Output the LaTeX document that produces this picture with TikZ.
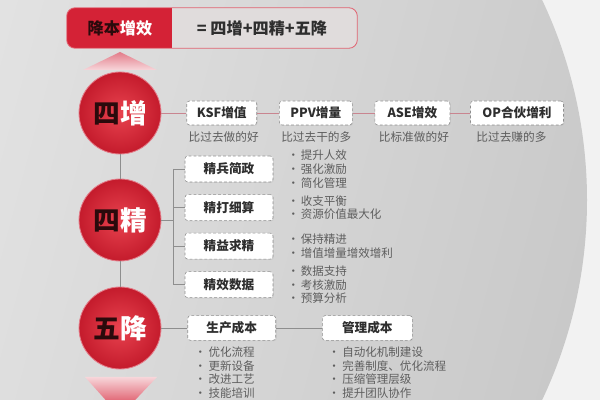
\documentclass[tikz,border=0pt]{standalone}
\usepackage{fontspec}
\setmainfont{Noto Sans CJK SC}
\usepackage{xcolor}
\usetikzlibrary{positioning, shadows, calc}

\definecolor{jred}{HTML}{D42236}
\definecolor{jredlight}{HTML}{E8434F}
\definecolor{jreddark}{HTML}{C41B2C}
\definecolor{jdark}{HTML}{2A0A0C}
\definecolor{jpink}{HTML}{E37C89}
\definecolor{jpinklight}{HTML}{F7D6DA}
\definecolor{jline}{HTML}{C98590}
\definecolor{jgrey}{HTML}{8E8E8E}
\definecolor{jtext}{HTML}{2E2E2E}
\definecolor{jsoft}{HTML}{5E5E5E}
\definecolor{jbgA}{HTML}{EEEEEE}
\definecolor{jbgB}{HTML}{DDDDDD}
\definecolor{jbgC}{HTML}{C9C9C9}
\definecolor{jbanner}{HTML}{E0DCDC}

\begin{document}
\begin{tikzpicture}[
    x=0.025cm, y=-0.025cm,
    ring/.style={circle, minimum size=2.05cm, inner sep=0pt, draw=jpink, line width=0.6pt, inner color=jredlight, outer color=jreddark, font=\fontsize{19}{19}\selectfont\bfseries},
    tag/.style={rectangle, draw=jgrey, dash pattern=on 2pt off 1.5pt, fill=white, rounded corners=2pt, minimum height=0.6cm, inner xsep=3pt, font=\fontsize{9}{9}\selectfont\bfseries, text=jtext, drop shadow={opacity=0.12, shadow xshift=0.6pt, shadow yshift=-0.6pt}},
    note/.style={inner sep=0pt, font=\fontsize{8.3}{9}\selectfont, text=jsoft},
    bul/.style={inner sep=0pt, align=left, font=\fontsize{8.2}{9.7}\selectfont, text=jsoft},
    link/.style={draw=jline, line width=0.6pt},
    trunk/.style={draw=jgrey, line width=0.6pt},
    node distance=0.3cm
]
\useasboundingbox (0,0) rectangle (600,400);

% background
\fill[white!95!black] (0,0) rectangle (600,400);
\begin{scope}
\clip (0,0) rectangle (600,400);
\shade[left color=jbgA, middle color=jbgB, right color=jbgC, shading angle=75] (120,200) circle (467);
\end{scope}

% banner
\node[minimum width=7.25cm, minimum height=1cm, inner sep=0pt] (bn) at (212,28) {};
\begin{scope}
\clip[rounded corners=6pt] (bn.south west) rectangle (bn.north east);
\fill[jbanner] (bn.south west) rectangle (bn.north east);
\fill[jred] (bn.south west) rectangle ++(105,-40);
\end{scope}
\draw[jred!70, line width=0.6pt, rounded corners=6pt] (bn.south west) rectangle (bn.north east);
\node[font=\fontsize{11.5}{11.5}\selectfont\bfseries] (bt) at (120,28) {{\color{jdark}降本}{\color{white}增效}};
\node[font=\fontsize{11.5}{11.5}\selectfont\bfseries, text=jtext] (eq) at (262,28) {= 四增+四精+五降};

% arrows
\shade[top color=jpink, bottom color=jpinklight] (83,70) -- (120,52) -- (157,70) -- cycle;
\shade[top color=jpinklight, bottom color=jred] (85,377) -- (157,377) -- (120,416) -- cycle;

% circles
\node[ring] (c1) at (120,113) {{\color{jdark}四}{\color{white}增}};
\node[ring] (c2) at (120,220) {{\color{jdark}四}{\color{white}精}};
\node[ring] (c3) at (120,328) {{\color{jdark}五}{\color{white}降}};
\draw[trunk] (c1) -- (c2);
\draw[trunk] (c2) -- (c3);

% row 1
\node[tag, minimum width=1.75cm, right=0.625cm of c1] (ksf) {KSF增值};
\node[tag, minimum width=1.825cm, right=0.55cm of ksf] (ppv) {PPV增量};
\node[tag, minimum width=1.875cm, right=0.55cm of ppv] (ase) {ASE增效};
\node[tag, minimum width=2.325cm, right=0.5cm of ase] (op) {OP合伙增利};
\node[note, below right=0.15cm and 0.05cm of ksf.south west] (nksf) {比过去做的好};
\node[note, below right=0.15cm and 0.05cm of ppv.south west] (nppv) {比过去干的多};
\node[note, below right=0.15cm and 0.1cm of ase.south west] (nase) {比标准做的好};
\node[note, below right=0.15cm and 0.15cm of op.south west] (nop) {比过去赚的多};
\draw[link] (c1) -- (ksf);
\draw[link] (ksf) -- (ppv);
\draw[link] (ppv) -- (ase);
\draw[link] (ase) -- (op);

% row 2
\node[tag, minimum width=2.2cm, minimum height=0.65cm] (jb) at (229,169) {精兵简政};
\node[tag, minimum width=2.2cm, minimum height=0.65cm, below=of jb] (jd) {精打细算};
\node[tag, minimum width=2.2cm, minimum height=0.65cm, below=of jd] (jy) {精益求精};
\node[tag, minimum width=2.2cm, minimum height=0.65cm, below=of jy] (jx) {精效数据};
\coordinate (br) at (173,220);
\draw[trunk] (c2) -- (br);
\draw[trunk] (br |- jb.west) -- (br |- jx.west);
\foreach \n in {jb,jd,jy,jx}
  \draw[trunk] (br |- \n.west) -- (\n.west);

\node[bul, right=0.35cm of jb] (ljb) {\makebox[0.33cm][l]{•}提升人效\\\makebox[0.33cm][l]{•}强化激励\\\makebox[0.33cm][l]{•}简化管理};
\node[bul, right=0.35cm of jd] (ljd) {\makebox[0.33cm][l]{•}收支平衡\\\makebox[0.33cm][l]{•}资源价值最大化};
\node[bul, right=0.35cm of jy] (ljy) {\makebox[0.33cm][l]{•}保持精进\\\makebox[0.33cm][l]{•}增值增量增效增利};
\node[bul, right=0.35cm of jx] (ljx) {\makebox[0.33cm][l]{•}数据支持\\\makebox[0.33cm][l]{•}考核激励\\\makebox[0.33cm][l]{•}预算分析};

% row 3
\node[tag, minimum width=2.2cm, minimum height=0.62cm, right=0.65cm of c3] (sc) {生产成本};
\node[tag, minimum width=2.25cm, minimum height=0.62cm, right=1.15cm of sc] (gl) {管理成本};
\draw[trunk] (c3) -- (sc);
\draw[trunk] (sc) -- (gl);
\node[bul, below right=0.15cm and 0.17cm of sc.south west] (lsc) {\makebox[0.35cm][l]{•}优化流程\\\makebox[0.35cm][l]{•}更新设备\\\makebox[0.35cm][l]{•}改进工艺\\\makebox[0.35cm][l]{•}技能培训};
\node[bul, below right=0.15cm and 0.15cm of gl.south west] (lgl) {\makebox[0.35cm][l]{•}自动化机制建设\\\makebox[0.35cm][l]{•}完善制度、优化流程\\\makebox[0.35cm][l]{•}压缩管理层级\\\makebox[0.35cm][l]{•}提升团队协作};

\end{tikzpicture}
\end{document}
